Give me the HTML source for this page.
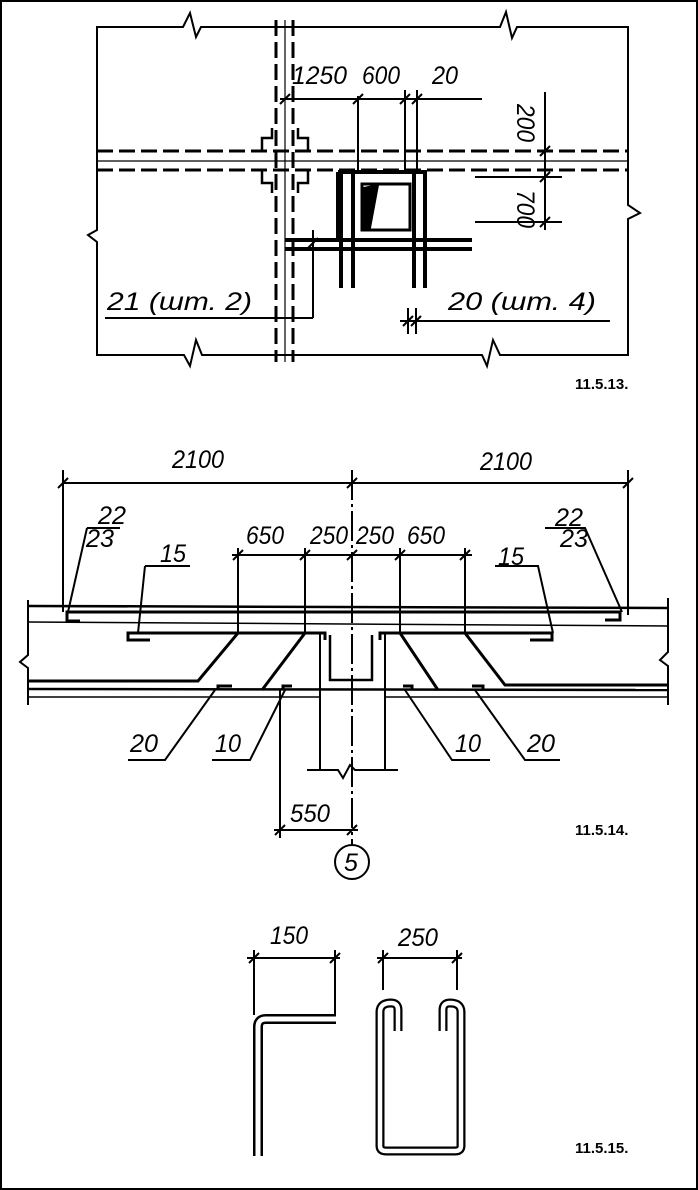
<!DOCTYPE html>
<html><head><meta charset="utf-8"><style>
html,body{margin:0;padding:0;background:#fff}
svg{display:block}
.t{font-family:"Liberation Sans",sans-serif;font-style:italic;font-size:25px;fill:#000}
.b{font-family:"Liberation Sans",sans-serif;font-weight:bold;font-size:15px;fill:#000}
</style></head><body>
<svg width="698" height="1190" viewBox="0 0 698 1190" xmlns="http://www.w3.org/2000/svg">
<rect x="1" y="1" width="696" height="1188" fill="none" stroke="#000" stroke-width="2"/>
<g stroke="#000" fill="none" stroke-width="2">
<!-- ===== FIG 11.5.13 ===== -->
<path d="M97,27 H183 L190,13 L196,37 L201,27 H500 L506,12 L512,38 L517,27 H628 V205 L640,213 L628,219 V355 H500 L493,340 L487,366 L482,355 H202 L196,340 L190,366 L184,355 H97 V242 L88,235 L97,230 Z"/>
<line x1="276" y1="20" x2="276" y2="362" stroke-width="3" stroke-dasharray="16,6"/>
<line x1="285" y1="20" x2="285" y2="362" stroke-width="1.2"/>
<line x1="293" y1="20" x2="293" y2="362" stroke-width="3" stroke-dasharray="16,6"/>
<line x1="97" y1="151" x2="628" y2="151" stroke-width="3" stroke-dasharray="16,6"/>
<line x1="97" y1="161" x2="628" y2="161" stroke-width="1.2"/>
<line x1="97" y1="170" x2="628" y2="170" stroke-width="3" stroke-dasharray="16,6"/>
<path d="M262,151 V138 H272 V128 M298,128 V138 H308 V151 M262,170 V183 H272 V193 M298,193 V183 H308 V170" stroke-width="2.5"/>
<rect x="362" y="184" width="48" height="46" stroke-width="3"/>
<path d="M364,188 L378,185 L370,228 L364,228 Z" fill="#000"/>
<path d="M338,172 H425 V288 M414,172 V288" stroke-width="4"/>
<path d="M341,172 V288 M353,172 V288 M338,172 V240" stroke-width="4"/>
<line x1="285" y1="240" x2="472" y2="240" stroke-width="4"/>
<line x1="285" y1="249" x2="472" y2="249" stroke-width="4"/>
<line x1="280" y1="99" x2="482" y2="99"/>
<line x1="358" y1="96" x2="358" y2="170"/><line x1="405" y1="90" x2="405" y2="170"/><line x1="417" y1="90" x2="417" y2="170"/>
<path d="M280,104 L290,94 M353,104 L363,94 M400,104 L410,94 M412,104 L422,94" stroke-width="2"/>
<line x1="545" y1="92" x2="545" y2="230"/>
<line x1="475" y1="177" x2="562" y2="177"/><line x1="475" y1="222" x2="562" y2="222"/>
<path d="M540,156 L550,146 M540,182 L550,172 M540,227 L550,217" stroke-width="2"/>
<line x1="313" y1="230" x2="313" y2="318"/>
<path d="M308,248 L318,238" stroke-width="2"/>
<line x1="105" y1="318" x2="313" y2="318"/>
<line x1="408" y1="308" x2="408" y2="334"/><line x1="416" y1="308" x2="416" y2="334"/>
<line x1="400" y1="321" x2="610" y2="321"/>
<path d="M403,326 L413,316 M411,326 L421,316" stroke-width="2"/>
<!-- ===== FIG 11.5.14 ===== -->
<line x1="63" y1="483" x2="628" y2="483"/>
<line x1="63" y1="470" x2="63" y2="612"/><line x1="628" y1="470" x2="628" y2="615"/>
<line x1="352" y1="470" x2="352" y2="845" stroke-dasharray="30,4,3,4"/>
<path d="M58,488 L68,478 M347,488 L357,478 M623,488 L633,478" stroke-width="2"/>
<line x1="232" y1="555" x2="472" y2="555"/>
<line x1="238" y1="548" x2="238" y2="632"/><line x1="305" y1="548" x2="305" y2="632"/><line x1="400" y1="548" x2="400" y2="632"/><line x1="465" y1="548" x2="465" y2="632"/>
<path d="M233,560 L243,550 M300,560 L310,550 M347,560 L357,550 M395,560 L405,550 M460,560 L470,550" stroke-width="2"/>
<path d="M28,600 V655 L20,662 L28,668 V705 M668,598 V652 L660,660 L668,666 V705"/>
<line x1="28" y1="606" x2="668" y2="608" stroke-width="2.5"/>
<line x1="28" y1="689" x2="668" y2="690" stroke-width="2.5"/>
<line x1="28" y1="697" x2="320" y2="697" stroke-width="1.5"/>
<line x1="385" y1="697" x2="668" y2="697" stroke-width="1.5"/>
<line x1="28" y1="622" x2="668" y2="626" stroke-width="1.5"/>
<path d="M80,621 H67 V612 H620 V620 H605" stroke-width="3"/>
<path d="M150,640 H128 V633 H325 V640 M380,640 V633 H552 V640 H530" stroke-width="3"/>
<path d="M238,633 L198,681 H28 M305,633 L262,690 M400,633 L438,690 M465,633 L505,685 H668" stroke-width="3"/>
<path d="M232,686 H218 V690 M292,686 H283 V690 M403,686 H412 V690 M472,686 H483 V690" stroke-width="3"/>
<path d="M330,635 V680 H372 V635" stroke-width="2.5"/>
<path d="M320,632 V770 M385,632 V770 M307,770 H338 L343,778 L350,765 L355,770 H398"/>
<line x1="280" y1="690" x2="280" y2="838"/>
<line x1="274" y1="830" x2="358" y2="830"/>
<path d="M275,835 L285,825 M347,835 L357,825" stroke-width="2"/>
<circle cx="352" cy="862" r="17"/>
<path d="M87,528 H120 M87,528 L68,612 M545,528 H585 L622,612"/>
<path d="M145,566 H190 M145,566 L138,633 M495,566 H538 L553,633"/>
<path d="M128,760 H165 L215,690 M212,760 H250 L285,690 M490,760 H452 L405,690 M560,760 H525 L475,690"/>
<!-- ===== FIG 11.5.15 ===== -->
<line x1="247" y1="958" x2="340" y2="958"/>
<line x1="254" y1="950" x2="254" y2="1015"/><line x1="335" y1="950" x2="335" y2="1016"/>
<path d="M249,963 L259,953 M330,963 L340,953" stroke-width="2"/>
<path d="M258,1156 V1027 Q258,1019 266,1019 H336" stroke-width="10" stroke-linejoin="round"/>
<path d="M258,1156 V1027 Q258,1019 266,1019 H336" stroke="#fff" stroke-width="5"/>
<line x1="377" y1="958" x2="462" y2="958"/>
<line x1="383" y1="950" x2="383" y2="990"/><line x1="457" y1="950" x2="457" y2="990"/>
<path d="M378,963 L388,953 M452,963 L462,953" stroke-width="2"/>
<path d="M398,1031 V1010 Q398,1003 391,1003 Q380,1003 380,1012 V1146 Q380,1151 386,1151 H455 Q461,1151 461,1146 V1012 Q461,1003 450,1003 Q443,1003 443,1010 V1031" stroke-width="9" stroke-linejoin="round"/>
<path d="M398,1031 V1010 Q398,1003 391,1003 Q380,1003 380,1012 V1146 Q380,1151 386,1151 H455 Q461,1151 461,1146 V1012 Q461,1003 450,1003 Q443,1003 443,1010 V1031" stroke="#fff" stroke-width="4.5" stroke-linejoin="round"/>
</g>
<text class="t" x="292" y="84" textLength="55" lengthAdjust="spacingAndGlyphs">1250</text>
<text class="t" x="362" y="84" textLength="38" lengthAdjust="spacingAndGlyphs">600</text>
<text class="t" x="432" y="84" textLength="26" lengthAdjust="spacingAndGlyphs">20</text>
<text class="t" transform="translate(517,104) rotate(90)" textLength="38" lengthAdjust="spacingAndGlyphs">200</text>
<text class="t" transform="translate(517,190) rotate(90)" textLength="38" lengthAdjust="spacingAndGlyphs">700</text>
<text class="t" x="107" y="310" textLength="145" lengthAdjust="spacingAndGlyphs">21 (шт. 2)</text>
<text class="t" x="448" y="310" textLength="148" lengthAdjust="spacingAndGlyphs">20 (шт. 4)</text>
<text class="b" x="575" y="389">11.5.13.</text>
<text class="t" x="172" y="468" textLength="52" lengthAdjust="spacingAndGlyphs">2100</text>
<text class="t" x="480" y="470" textLength="52" lengthAdjust="spacingAndGlyphs">2100</text>
<text class="t" x="98" y="524" textLength="28" lengthAdjust="spacingAndGlyphs">22</text>
<text class="t" x="86" y="547" textLength="28" lengthAdjust="spacingAndGlyphs">23</text>
<text class="t" x="160" y="562" textLength="26" lengthAdjust="spacingAndGlyphs">15</text>
<text class="t" x="555" y="526" textLength="28" lengthAdjust="spacingAndGlyphs">22</text>
<text class="t" x="560" y="547" textLength="28" lengthAdjust="spacingAndGlyphs">23</text>
<text class="t" x="498" y="565" textLength="26" lengthAdjust="spacingAndGlyphs">15</text>
<text class="t" x="246" y="544" textLength="38" lengthAdjust="spacingAndGlyphs">650</text>
<text class="t" x="310" y="544" textLength="38" lengthAdjust="spacingAndGlyphs">250</text>
<text class="t" x="356" y="544" textLength="38" lengthAdjust="spacingAndGlyphs">250</text>
<text class="t" x="407" y="544" textLength="38" lengthAdjust="spacingAndGlyphs">650</text>
<text class="t" x="130" y="752" textLength="28" lengthAdjust="spacingAndGlyphs">20</text>
<text class="t" x="215" y="752" textLength="26" lengthAdjust="spacingAndGlyphs">10</text>
<text class="t" x="455" y="752" textLength="26" lengthAdjust="spacingAndGlyphs">10</text>
<text class="t" x="527" y="752" textLength="28" lengthAdjust="spacingAndGlyphs">20</text>
<text class="t" x="290" y="822" textLength="40" lengthAdjust="spacingAndGlyphs">550</text>
<text class="t" x="344" y="871">5</text>
<text class="b" x="575" y="835">11.5.14.</text>
<text class="t" x="270" y="944" textLength="38" lengthAdjust="spacingAndGlyphs">150</text>
<text class="t" x="398" y="946" textLength="40" lengthAdjust="spacingAndGlyphs">250</text>
<text class="b" x="575" y="1153">11.5.15.</text>
</svg>
</body></html>
